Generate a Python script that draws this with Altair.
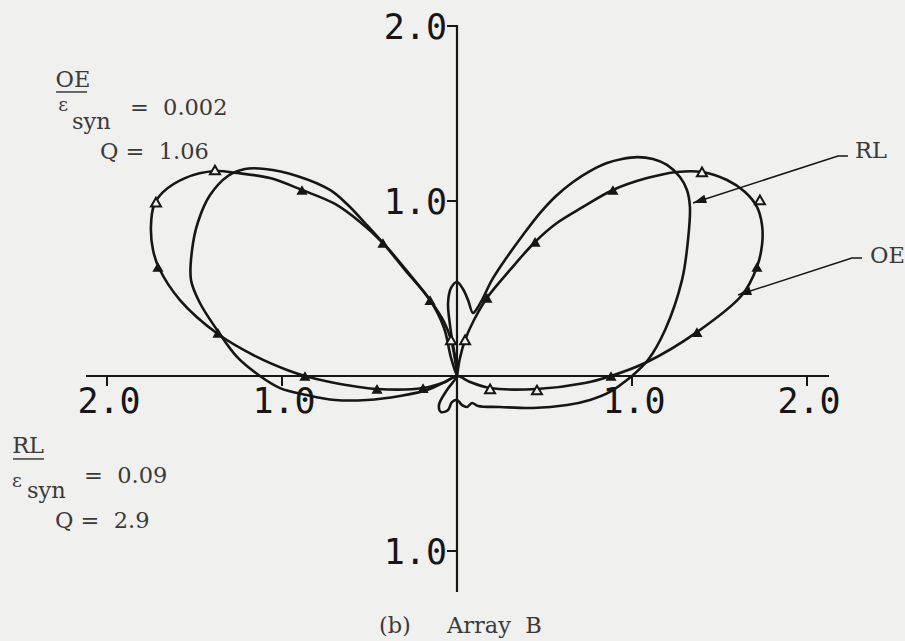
import math
import altair as alt
import pandas as pd

# ---- pattern curves (axis units) ----
# RL pattern: plain curve with main lobes, small vertical lobe and back lobes
rl_x = [1.000, 1.091, 1.189, 1.286, 1.320, 1.331, 1.314, 1.274, 1.200, 1.120,
        1.029, 0.943, 0.857, 0.760, 0.663, 0.566, 0.474, 0.377, 0.286, 0.200,
        0.143, 0.109, 0.091, 0.063, 0.034, 0.000, -0.034,
        -0.051, -0.040, -0.023, -0.006, 0.000, -0.034, -0.074, -0.154, -0.297, -0.423,
        -0.526, -0.623, -0.726, -0.914, -1.097, -1.211, -1.309, -1.411, -1.480, -1.514,
        -1.520, -1.469, -1.371, -1.257, -1.126, -1.011, -0.857, -0.697, -0.514, -0.326,
        -0.171, -0.069, 0.000, -0.057, -0.103, -0.091, -0.051, -0.029, 0.000, 0.029,
        0.057, 0.086, 0.120, 0.246, 0.434, 0.629, 0.760, 0.874, 1.000]
rl_y = [0.000, 0.091, 0.263, 0.549, 0.777, 0.966, 1.063, 1.137, 1.206, 1.240,
        1.251, 1.240, 1.217, 1.171, 1.109, 1.029, 0.931, 0.806, 0.680, 0.549,
        0.434, 0.377, 0.360, 0.434, 0.497, 0.537, 0.503,
        0.417, 0.291, 0.177, 0.080, 0.000, 0.103, 0.274, 0.434, 0.606, 0.760,
        0.874, 0.977, 1.063, 1.143, 1.183, 1.183, 1.143, 1.034, 0.880, 0.720,
        0.549, 0.417, 0.263, 0.109, 0.000, -0.069, -0.109, -0.137, -0.137, -0.114,
        -0.080, -0.034, 0.000, -0.080, -0.166, -0.206, -0.194, -0.149, -0.137, -0.166,
        -0.177, -0.154, -0.171, -0.177, -0.183, -0.166, -0.137, -0.091, 0.000]

# OE pattern: curve carrying the triangle symbols
oe_x = [0.000, -0.011, -0.034, -0.074, -0.154, -0.291, -0.423, -0.554, -0.697, -0.886,
        -1.069, -1.257, -1.383, -1.554, -1.680, -1.731, -1.749, -1.737, -1.703, -1.583,
        -1.366, -1.143, -0.971, -0.869, -0.726, -0.457, -0.194, -0.069, 0.000, 0.074,
        0.189, 0.457, 0.731, 0.880, 1.086, 1.371, 1.629, 1.714, 1.743, 1.743,
        1.714, 1.646, 1.543, 1.400, 1.257, 1.086, 0.891, 0.720, 0.571, 0.446,
        0.303, 0.171, 0.097, 0.046, 0.017, 0.000]
oe_y = [0.000, 0.091, 0.206, 0.309, 0.434, 0.606, 0.760, 0.880, 0.983, 1.063,
        1.131, 1.160, 1.171, 1.131, 1.051, 0.977, 0.851, 0.720, 0.617, 0.434,
        0.240, 0.109, 0.034, 0.000, -0.034, -0.074, -0.069, -0.034, 0.000, -0.034,
        -0.069, -0.074, -0.040, 0.000, 0.080, 0.251, 0.463, 0.623, 0.749, 0.863,
        0.966, 1.051, 1.120, 1.166, 1.166, 1.131, 1.063, 0.966, 0.874, 0.766,
        0.606, 0.446, 0.320, 0.206, 0.103, 0.000]

# triangle symbols on the OE curve
filled_tri_x = [-0.886, -0.423, -0.154, -1.709, -1.366, -0.869, -0.457, -0.194,
                0.880, 1.371, 1.714, 0.891, 0.446, 0.171]
filled_tri_y = [1.063, 0.760, 0.434, 0.623, 0.246, 0.000, -0.074, -0.069,
                0.000, 0.251, 0.623, 1.063, 0.766, 0.446]
open_tri_x = [-1.383, -1.720, -0.034, 0.046, 0.189, 0.457, 1.731, 1.400]
open_tri_y = [1.177, 0.994, 0.206, 0.206, -0.074, -0.080, 1.006, 1.166]

# ---- axes ----
x_ticks = [-2.0, -1.0, 1.0, 2.0]
y_ticks = [2.0, 1.0, -1.0]
x_axis_extent = [-2.12, 2.126]
y_axis_extent = [-1.234, 2.006]

# ---- leader lines to the curve names ----
rl_leader_x = [2.234, 2.177, 1.349]
rl_leader_y = [1.257, 1.257, 0.989]
oe_leader_x = [2.314, 2.257, 1.606]
oe_leader_y = [0.674, 0.674, 0.463]

# ---- annotation texts ----
NB = "\u00a0"
note_text = ["OE", "=" + NB * 2 + "0.002", "syn", "Q" + NB + "=" + NB * 2 + "1.06",
             "RL", "=" + NB * 2 + "0.09", "syn", "Q" + NB + "=" + NB * 2 + "2.9",
             "RL", "OE", "(b)", "Array" + NB + NB + "B"]
note_x = [-2.194, -1.869, -2.200, -2.040,
          -2.451, -2.131, -2.457, -2.297,
          2.274, 2.360, -0.355, -0.057]
note_y = [1.651, 1.491, 1.411, 1.240,
          -0.440, -0.611, -0.697, -0.869,
          1.246, 0.646, -1.469, -1.469]
note_align = ["center", "left", "left", "left",
              "center", "left", "left", "left",
              "left", "left", "center", "left"]
eps_x = [-2.251, -2.514]
eps_y = [1.514, -0.634]
underline_x = [-2.291, -2.537]
underline_x2 = [-2.114, -2.360]
underline_y = [1.623, -0.474]

X_DOMAIN = [-2.6114, 2.5600]
Y_DOMAIN = [-1.5143, 2.1486]
BG = "#f0f0ee"
INK = "#161616"
TEXT_INK = "#3a3a3a"

xs = alt.Scale(domain=X_DOMAIN, nice=False, zero=False)
ys = alt.Scale(domain=Y_DOMAIN, nice=False, zero=False)


def X(f="x"):
    return alt.X(f"{f}:Q", scale=xs, axis=None)


def Y(f="y"):
    return alt.Y(f"{f}:Q", scale=ys, axis=None)


def path_df(xv, yv):
    return pd.DataFrame({"x": xv, "y": yv, "i": list(range(len(xv)))})


def curve(xv, yv, width=2.6):
    return alt.Chart(path_df(xv, yv)).mark_line(
        color=INK, strokeWidth=width, interpolate="catmull-rom", strokeJoin="round"
    ).encode(x=X(), y=Y(), order="i:Q")


rl_curve = curve(rl_x, rl_y)
oe_curve = curve(oe_x, oe_y)

filled_tris = alt.Chart(pd.DataFrame({"x": filled_tri_x, "y": filled_tri_y})).mark_point(
    shape="triangle-up", filled=True, color=INK, size=125, opacity=1
).encode(x=X(), y=Y())

open_tris = alt.Chart(pd.DataFrame({"x": open_tri_x, "y": open_tri_y})).mark_point(
    shape="triangle-up", filled=True, fill=BG, stroke=INK, strokeWidth=2, size=100, opacity=1
).encode(x=X(), y=Y())

# axis lines
h_axis = alt.Chart(pd.DataFrame({"x": [x_axis_extent[0]], "x2": [x_axis_extent[1]], "y": [0.0]})).mark_rule(
    color=INK, strokeWidth=2.2
).encode(x=X(), x2="x2:Q", y=Y())
v_axis = alt.Chart(pd.DataFrame({"y": [y_axis_extent[0]], "y2": [y_axis_extent[1]], "x": [0.0]})).mark_rule(
    color=INK, strokeWidth=2.2
).encode(y=Y(), y2="y2:Q", x=X())

tick_len = 10 / 175.0
x_tick_marks = alt.Chart(pd.DataFrame({"x": x_ticks, "y": [0.0] * 4, "y2": [-tick_len] * 4})).mark_rule(
    color=INK, strokeWidth=2
).encode(x=X(), y=Y(), y2="y2:Q")
y_tick_marks = alt.Chart(pd.DataFrame({"y": y_ticks, "x": [-tick_len] * 3, "x2": [0.0] * 3})).mark_rule(
    color=INK, strokeWidth=2
).encode(y=Y(), x=X(), x2="x2:Q")

x_tick_df = pd.DataFrame({"x": x_ticks, "y": [0.0] * 4,
                          "label": [f"{abs(t):.1f}" for t in x_ticks]})
y_tick_df = pd.DataFrame({"y": y_ticks, "x": [0.0] * 3,
                          "label": [f"{abs(t):.1f}" for t in y_ticks]})
tick_font = dict(font="DejaVu Sans Mono", fontSize=35, color=INK, baseline="alphabetic")
x_labels = alt.Chart(x_tick_df).mark_text(align="center", dx=2, dy=37, **tick_font).encode(
    x=X(), y=Y(), text="label:N")
y_labels = alt.Chart(y_tick_df).mark_text(align="right", dx=-10, dy=13, **tick_font).encode(
    x=X(), y=Y(), text="label:N")

# leader lines and arrowheads
leaders = []
heads = []
for lx, ly in ((rl_leader_x, rl_leader_y), (oe_leader_x, oe_leader_y)):
    leaders.append(alt.Chart(path_df(lx, ly)).mark_line(color=INK, strokeWidth=1.5).encode(
        x=X(), y=Y(), order="i:Q"))
    ang = math.degrees(math.atan2(-(ly[-1] - ly[-2]), lx[-1] - lx[-2])) % 360
    heads.append(alt.Chart(pd.DataFrame({"x": [lx[-1]], "y": [ly[-1]], "a": [ang]})).mark_point(
        shape="M0,0L-1,-0.32L-1,0.32Z", filled=True, color=INK, size=700, opacity=1
    ).encode(x=X(), y=Y(), angle=alt.Angle("a:Q", scale=None)))

note_df = pd.DataFrame({"x": note_x, "y": note_y, "t": note_text, "al": note_align})
note_font = dict(font="DejaVu Serif", fontSize=22.5, color=TEXT_INK, baseline="alphabetic")
notes_left = alt.Chart(note_df[note_df.al == "left"]).mark_text(align="left", **note_font).encode(
    x=X(), y=Y(), text="t:N")
notes_center = alt.Chart(note_df[note_df.al == "center"]).mark_text(align="center", **note_font).encode(
    x=X(), y=Y(), text="t:N")
eps = alt.Chart(pd.DataFrame({"x": eps_x, "y": eps_y, "t": ["\u03b5"] * 2})).mark_text(
    align="center", font="DejaVu Serif", fontSize=19, color=TEXT_INK, baseline="alphabetic"
).encode(x=X(), y=Y(), text="t:N")
underlines = alt.Chart(pd.DataFrame({"x": underline_x, "x2": underline_x2, "y": underline_y})).mark_rule(
    color=TEXT_INK, strokeWidth=1.5
).encode(x=X(), x2="x2:Q", y=Y())

chart = alt.layer(
    h_axis, v_axis, x_tick_marks, y_tick_marks, x_labels, y_labels,
    rl_curve, oe_curve, filled_tris, open_tris,
    *leaders, *heads,
    notes_left, notes_center, eps, underlines,
).properties(
    width=905, height=641, background=BG, padding=0,
    autosize=alt.AutoSizeParams(type="none"),
).configure_view(stroke=None)

chart.save("out.html", embed_options={"renderer": "svg", "actions": False})
